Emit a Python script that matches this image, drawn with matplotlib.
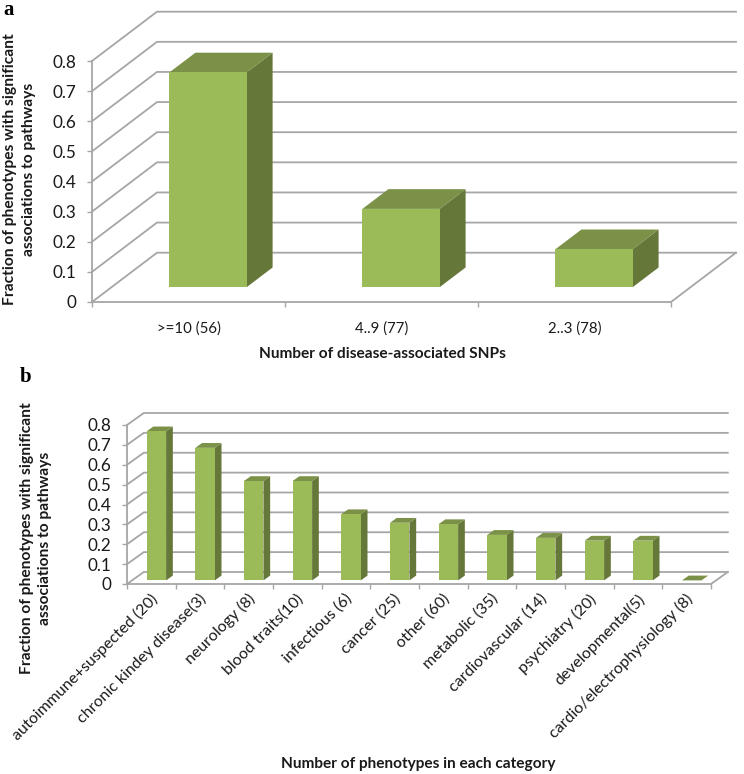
import matplotlib
matplotlib.use("Agg")
import matplotlib.pyplot as plt
from matplotlib.patches import Polygon
from matplotlib.transforms import Affine2D

W, H = 744, 774

cats_a = [">=10 (56)", "4..9 (77)", "2..3 (78)"]
vals_a = [0.713, 0.26, 0.126]
cats_b = ["autoimmune+suspected (20)", "chronic kindey disease(3)", "neurology (8)",
          "blood traits(10)", "infectious (6)", "cancer (25)", "other (60)",
          "metabolic (35)", "cardiovascular (14)", "psychiatry (20)",
          "developmental(5)", "cardio/electrophysiology (8)"]
vals_b = [0.75, 0.667, 0.5, 0.5, 0.333, 0.29, 0.283, 0.229, 0.214, 0.2, 0.2, 0.0]
yticks = [0, 0.1, 0.2, 0.3, 0.4, 0.5, 0.6, 0.7, 0.8]
ylabel = "Fraction of phenotypes with significant\nassociations to pathways"

FRONT, SIDE, TOP = "#9BBB59", "#66773A", "#7A9147"
GRID = "#A6A6A6"
TXT = "#1a1a1a"
FONT = "Lato"
plt.rcParams["font.family"] = [FONT, "DejaVu Sans"]

fig = plt.figure(figsize=(W / 100, H / 100), dpi=100)


def chart(box, cats, vals, depth_px, fs):
    """box = left, right, y(0.8), y(0) in pixels of the front plane."""
    l, r, t, b = box
    ax = fig.add_axes([l / W, 1 - b / H, (r - l) / W, (b - t) / H])
    n = len(cats)
    ax.set_xlim(0, n)
    ax.set_ylim(0, 0.8)
    ax.patch.set_alpha(0)
    ddx = depth_px[0] / ((r - l) / n)
    ddy = depth_px[1] / ((b - t) / 0.8)

    def P(x, y, d):
        return (x + d * ddx, y + d * ddy)

    for v in yticks:
        ax.plot(*zip(P(0, v, 0), P(0, v, 1), P(n, v, 1)), color=GRID, lw=1.3,
                clip_on=False, zorder=1, solid_joinstyle="miter")
    ax.plot(*zip(P(n, 0, 0), P(n, 0, 1)), color=GRID, lw=1.3, clip_on=False, zorder=1)

    for i, v in enumerate(vals):
        x0, x1 = i + 0.3, i + 0.7
        d0, d1 = 0.3, 0.7
        ax.add_patch(Polygon([P(x1, 0, d0), P(x1, 0, d1), P(x1, v, d1), P(x1, v, d0)],
                             fc=SIDE, ec="none", clip_on=False, zorder=3))
        ax.add_patch(Polygon([P(x0, v, d0), P(x1, v, d0), P(x1, v, d1), P(x0, v, d1)],
                             fc=TOP, ec="none", clip_on=False, zorder=3))
        ax.add_patch(Polygon([P(x0, 0, d0), P(x1, 0, d0), P(x1, v, d0), P(x0, v, d0)],
                             fc=FRONT, ec="none", clip_on=False, zorder=4))

    for s in ("top", "right"):
        ax.spines[s].set_visible(False)
    for s in ("left", "bottom"):
        ax.spines[s].set_color(GRID)
        ax.spines[s].set_linewidth(1.3)
    ax.set_yticks(yticks)
    ax.set_yticklabels([f"{v:g}" for v in yticks], fontsize=fs, color=TXT)
    ax.set_xticks(range(n + 1))
    ax.set_xticklabels([])
    ax.set_xticks([i + 0.5 for i in range(n)], minor=True)
    ax.tick_params(axis="y", length=3.6, width=1.0, color=GRID, pad=7.5)
    ax.tick_params(axis="x", which="major", length=3.6, width=1.0, color=GRID)
    ax.tick_params(axis="x", which="minor", length=0)
    return ax


ax_a = chart((92, 671, 61, 302), cats_a, vals_a, (65, 49.3), 12.3)
ax_a.set_xticklabels(cats_a, minor=True, fontsize=10.8, color=TXT)
ax_a.tick_params(axis="x", which="minor", pad=14)

ax_b = chart((127, 711, 425, 584), cats_b, vals_b, (16.8, 12), 12.3)
ax_b.set_xticklabels(cats_b, minor=True, fontsize=11.5, color=TXT, rotation=45,
                     ha="right", va="top", rotation_mode="anchor")
ax_b.tick_params(axis="x", which="minor", pad=9)
shift = Affine2D().translate(-1, 5)
for t in ax_b.get_xticklabels(minor=True):
    t.set_transform(t.get_transform() + shift)


def label(px, py, s, **kw):
    fig.text(px / W, 1 - py / H, s, ha="center", va="center", **kw)


label(19.5, 169, ylabel, rotation=90, fontsize=11.25, fontweight="bold", color=TXT, linespacing=1.37)
label(36, 538, ylabel, rotation=90, fontsize=11.25, fontweight="bold", color=TXT, linespacing=1.43)
label(382, 353.5, "Number of disease-associated SNPs", fontsize=11.1, fontweight="bold", color=TXT)
label(418, 764, "Number of phenotypes in each category", fontsize=11.1, fontweight="bold", color=TXT)
label(9, 10, "a", fontsize=15, fontweight="bold", family="Liberation Serif", color="black")
label(26, 377, "b", fontsize=15, fontweight="bold", family="Liberation Serif", color="black")

fig.savefig("out.png", dpi=100)
